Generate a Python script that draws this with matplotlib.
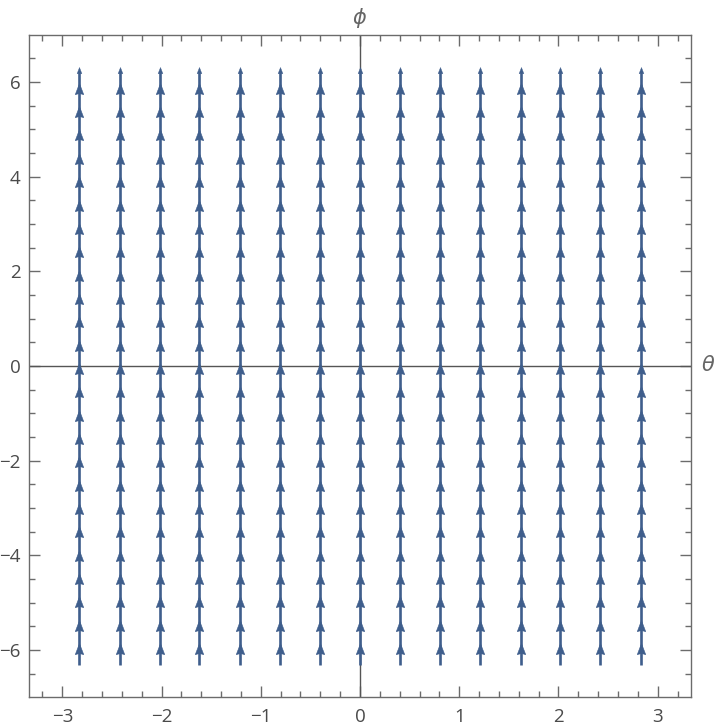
import numpy as np
import matplotlib.pyplot as plt
from matplotlib.path import Path
from matplotlib.ticker import MultipleLocator

# vector field sample points (theta columns, phi rows) and field components
theta = [-2.83, -2.42, -2.02, -1.62, -1.21, -0.81, -0.40, 0.0,
         0.40, 0.81, 1.21, 1.62, 2.02, 2.42, 2.83]
phi = [-5.92, -5.43, -4.93, -4.44, -3.95, -3.45, -2.96, -2.47, -1.97,
       -1.48, -0.99, -0.49, 0.0, 0.49, 0.99, 1.48, 1.97, 2.47, 2.96,
       3.45, 3.95, 4.44, 4.93, 5.43, 5.92]
u = 0.0   # d(theta)/dt
v = 1.0   # d(phi)/dt (constant)

x_ticks = [-3, -2, -1, 0, 1, 2, 3]
y_ticks = [-6, -4, -2, 0, 2, 4, 6]

color = '#3f5e8c'
frame = '#6b6b6b'
plt.rcParams['font.family'] = ['Open Sans', 'DejaVu Sans']

fig = plt.figure(figsize=(7.2, 7.27), dpi=100)
ax = fig.add_axes([0.0403, 0.0413, 0.9194, 0.9106])
ax.set_xlim(-3.335, 3.335)
ax.set_ylim(-6.99, 6.99)

# arrow geometry (arrows overlap along each column)
arrow_len = 0.77 * v
head_tip = 0.065

head = Path([(0, 0), (-0.38, -1), (0, -0.9), (0.38, -1), (0, 0)],
            [Path.MOVETO, Path.LINETO, Path.LINETO, Path.LINETO, Path.CLOSEPOLY])

X, Y = np.meshgrid(theta, phi)
ax.vlines(theta, phi[0] - arrow_len / 2, phi[-1] + arrow_len / 2 - 0.08,
          color=color, lw=1.9, zorder=3)
ax.plot(X.ravel() + u, Y.ravel() + head_tip, ls='none', marker=head,
        ms=16, color=color, mew=0.4, zorder=4)
# end of the top arrow in every column
ax.plot(theta, [phi[-1] + arrow_len / 2] * len(theta), ls='none', marker=head,
        ms=9, color=color, mew=0.3, zorder=4)

# axes through origin
ax.axhline(0, color='#555555', lw=1.0, zorder=2)
ax.axvline(0, color='#555555', lw=1.0, zorder=2)

for s in ax.spines.values():
    s.set_color(frame)
    s.set_linewidth(1.0)

ax.set_xticks(x_ticks)
ax.set_yticks(y_ticks)
ax.xaxis.set_minor_locator(MultipleLocator(0.2))
ax.yaxis.set_minor_locator(MultipleLocator(0.5))
ax.tick_params(which='both', direction='in', top=True, right=True,
               color=frame, width=1.0)
ax.tick_params(which='major', length=8, labelsize=13.5, labelcolor='#4a4a4a')
ax.tick_params(which='minor', length=4.5)
ax.tick_params(axis='x', which='major', pad=8)
ax.tick_params(axis='y', which='major', pad=6)

ax.text(0.5, 1.026, r'$\phi$', transform=ax.transAxes, ha='center', va='center',
        fontsize=15, color='#666666')
ax.text(1.026, 0.5, r'$\theta$', transform=ax.transAxes, ha='center', va='center',
        fontsize=15, color='#666666')

fig.savefig('out.png', dpi=100)
